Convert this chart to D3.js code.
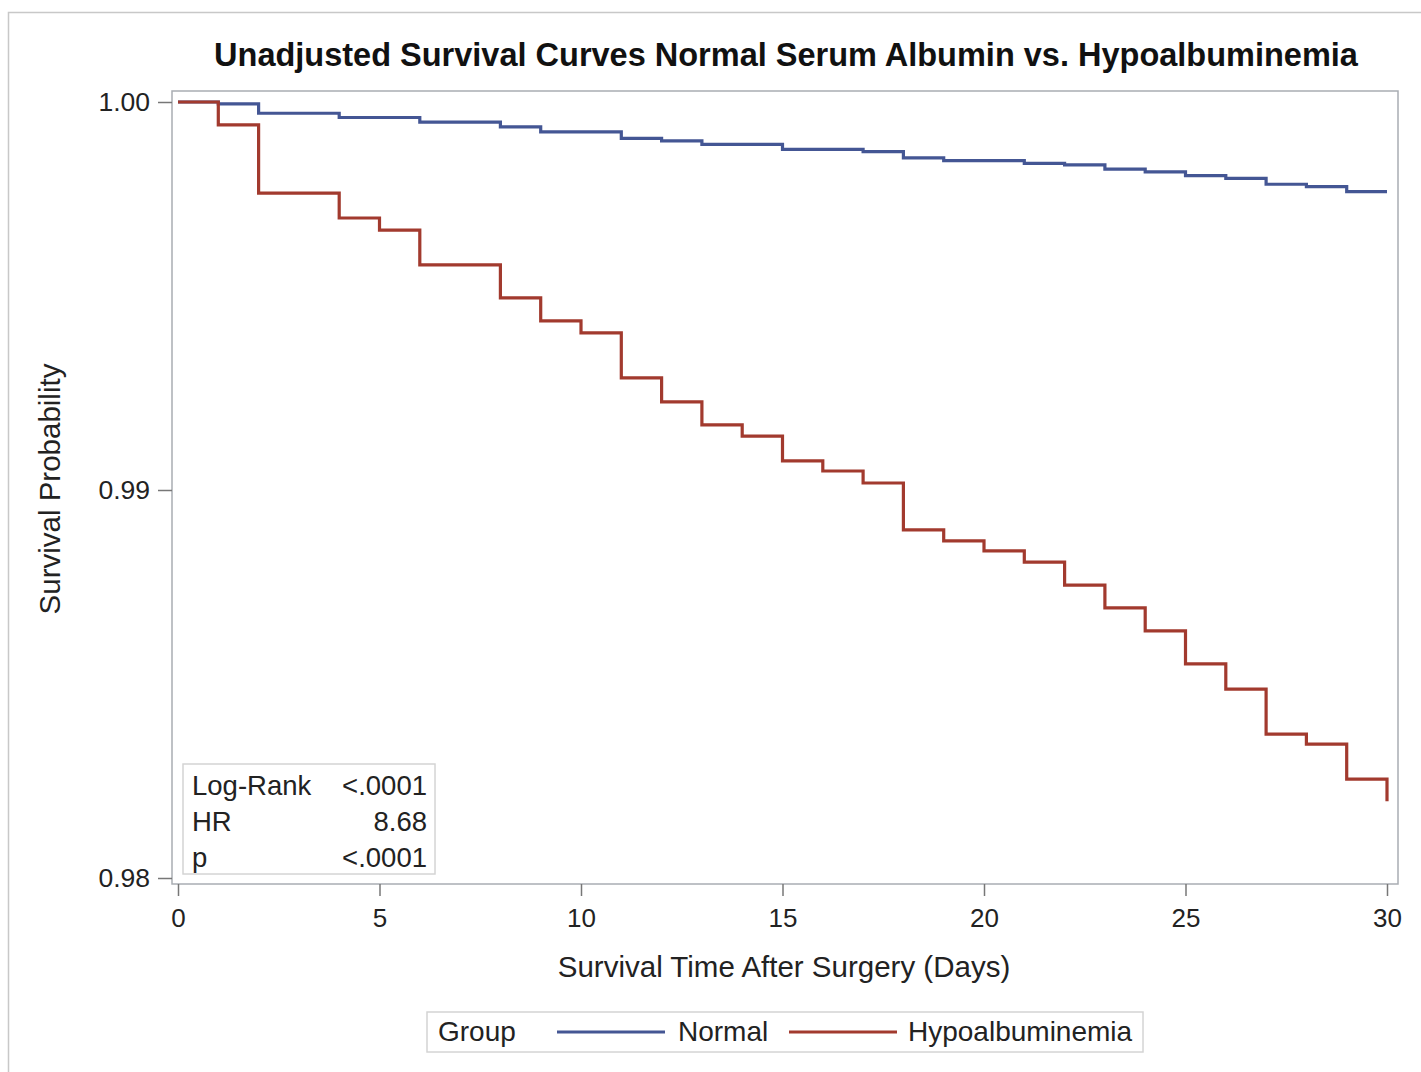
<!DOCTYPE html>
<html>
<head>
<meta charset="utf-8">
<script src="https://cdn.jsdelivr.net/npm/d3@7"></script>
<style>
  html, body { margin: 0; padding: 0; background: #fff; }
  svg { display: block; font-family: "Liberation Sans", Arial, sans-serif; }
</style>
</head>
<body>
<svg id="chart" width="1421" height="1072"></svg>
<script>
// Kaplan-Meier estimates by day after surgery
const days = [0,1,2,3,4,5,6,7,8,9,10,11,12,13,14,15,16,17,18,19,20,21,22,23,24,25,26,27,28,29,30];
const normalSurvival = [
  1.00000, 0.99995, 0.99971, 0.99971, 0.99960, 0.99960, 0.99948, 0.99948, 0.99936, 0.99923,
  0.99923, 0.99906, 0.99900, 0.99891, 0.99891, 0.99878, 0.99878, 0.99872, 0.99856, 0.99849,
  0.99849, 0.99842, 0.99838, 0.99827, 0.99820, 0.99810, 0.99803, 0.99788, 0.99782, 0.99769,
  0.99769
];
const hypoSurvival = [
  1.00000, 0.99941, 0.99765, 0.99765, 0.99701, 0.99670, 0.99580, 0.99580, 0.99495, 0.99436,
  0.99405, 0.99289, 0.99227, 0.99168, 0.99139, 0.99075, 0.99049, 0.99018, 0.98897, 0.98869,
  0.98843, 0.98814, 0.98755, 0.98696, 0.98637, 0.98552, 0.98487, 0.98371, 0.98345, 0.98255,
  0.98198
];
const groups = ["Normal", "Hypoalbuminemia"];
const xTicks = [0, 5, 10, 15, 20, 25, 30];
const yTicks = [0.98, 0.99, 1.00];
const statLabels = ["Log-Rank", "HR", "p"];
const statValues = ["<.0001", "8.68", "<.0001"];

const colors = { "Normal": "#445694", "Hypoalbuminemia": "#A23A2E" };
const series = [
  { name: groups[0], values: normalSurvival },
  { name: groups[1], values: hypoSurvival }
];

const svg = d3.select("#chart");

// outer graph border
svg.append("rect")
  .attr("x", 8.5).attr("y", 12.5)
  .attr("width", 1420).attr("height", 1080)
  .attr("fill", "none").attr("stroke", "#c8c8c8").attr("stroke-width", 1.5);

const x = d3.scaleLinear().domain([0, 30]).range([178, 1387]);
const y = d3.scaleLinear().domain([0.98, 1.00]).range([878, 102]);

// plot frame
const frame = { left: 172, top: 91, right: 1398, bottom: 884 };
svg.append("rect")
  .attr("x", frame.left).attr("y", frame.top)
  .attr("width", frame.right - frame.left).attr("height", frame.bottom - frame.top)
  .attr("fill", "none").attr("stroke", "#a9adb3").attr("stroke-width", 1.5);

// title
svg.append("text")
  .attr("x", 786).attr("y", 66)
  .attr("text-anchor", "middle")
  .attr("font-size", 32.5).attr("font-weight", "bold").attr("fill", "#111")
  .text("Unadjusted Survival Curves Normal Serum Albumin vs. Hypoalbuminemia");

// x axis
const xAxis = svg.append("g")
  .attr("transform", `translate(0,${frame.bottom})`)
  .call(d3.axisBottom(x).tickValues(xTicks).tickFormat(d3.format("d")).tickSize(12).tickPadding(13));
xAxis.select(".domain").remove();
xAxis.selectAll(".tick line").attr("stroke", "#777").attr("stroke-width", 1.5);
xAxis.selectAll(".tick text").attr("font-size", 26).attr("fill", "#222")
  .attr("font-family", "Liberation Sans, Arial, sans-serif");

// y axis
const yAxis = svg.append("g")
  .attr("transform", `translate(${frame.left},0)`)
  .call(d3.axisLeft(y).tickValues(yTicks).tickFormat(d3.format(".2f")).tickSize(14).tickPadding(8));
yAxis.select(".domain").remove();
yAxis.selectAll(".tick line").attr("stroke", "#777").attr("stroke-width", 1.5);
yAxis.selectAll(".tick text").attr("font-size", 26.5).attr("fill", "#222")
  .attr("font-family", "Liberation Sans, Arial, sans-serif");

// axis labels
svg.append("text")
  .attr("x", 784).attr("y", 977)
  .attr("text-anchor", "middle").attr("font-size", 29.5).attr("fill", "#222")
  .text("Survival Time After Surgery (Days)");
svg.append("text")
  .attr("transform", "translate(60,489) rotate(-90)")
  .attr("text-anchor", "middle").attr("font-size", 29.5).attr("fill", "#222")
  .text("Survival Probability");

// survival step curves
const line = d3.line()
  .x((d, i) => x(days[i]))
  .y(d => y(d))
  .curve(d3.curveStepAfter);

svg.append("g").selectAll("path")
  .data(series)
  .join("path")
  .attr("d", d => line(d.values))
  .attr("fill", "none")
  .attr("stroke", d => colors[d.name])
  .attr("stroke-width", 3.2)
  .attr("stroke-linejoin", "miter");

// statistics inset
const inset = svg.append("g");
inset.append("rect")
  .attr("x", 183).attr("y", 764).attr("width", 252).attr("height", 110)
  .attr("fill", "#fff").attr("stroke", "#d4d4d4").attr("stroke-width", 1.5);
statLabels.forEach((lab, i) => {
  const by = 795 + i * 36;
  inset.append("text").attr("x", 192).attr("y", by)
    .attr("font-size", 27.5).attr("fill", "#222").text(lab);
  inset.append("text").attr("x", 427).attr("y", by)
    .attr("text-anchor", "end").attr("font-size", 27.5).attr("fill", "#222").text(statValues[i]);
});

// legend
const legend = svg.append("g");
legend.append("rect")
  .attr("x", 427).attr("y", 1012).attr("width", 716).attr("height", 40)
  .attr("fill", "#fff").attr("stroke", "#d4d4d4").attr("stroke-width", 1.5);
legend.append("text").attr("x", 438).attr("y", 1041)
  .attr("font-size", 28).attr("fill", "#222").text("Group");
const legendItems = [
  { name: groups[0], x0: 557, x1: 665, tx: 678 },
  { name: groups[1], x0: 789, x1: 897, tx: 908 }
];
legendItems.forEach(it => {
  legend.append("line")
    .attr("x1", it.x0).attr("x2", it.x1).attr("y1", 1032).attr("y2", 1032)
    .attr("stroke", colors[it.name]).attr("stroke-width", 3.2);
  legend.append("text").attr("x", it.tx).attr("y", 1041)
    .attr("font-size", 28).attr("fill", "#222").text(it.name);
});
</script>
</body>
</html>
